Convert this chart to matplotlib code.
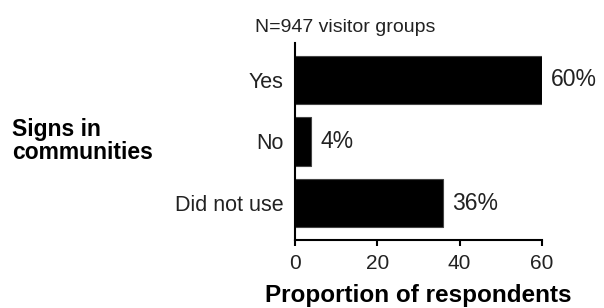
##Signs in communities bar chart
import matplotlib
matplotlib.use('Agg')
import matplotlib.pyplot as plt

plt.rcParams['font.family'] = ['Liberation Sans', 'DejaVu Sans']

#responses, top to bottom
categories = ['Yes', 'No', 'Did not use']
percents = [60, 4, 36]
xticks = [0, 20, 40, 60]

fig = plt.figure(figsize=(6.04, 3.08), dpi=100)
ax = fig.add_axes([0.4884, 0.2208, 0.4090, 0.6396])

ypos = list(range(len(categories)))[::-1]
bars = ax.barh(ypos, percents, height=0.78, color='black', edgecolor='#444444', linewidth=0.8)
ax.bar_label(bars, labels=[str(p) + '%' for p in percents], padding=6.5, fontsize=16.5, color='#222222')

ax.set_xlim(0, 60)
ax.set_ylim(-0.6, 2.6)
ax.set_yticks(ypos)
ax.set_yticklabels(categories, fontsize=15.5, color='#222222')
ax.tick_params(axis='y', length=0, pad=8)
ax.set_xticks(xticks)
ax.set_xticklabels([str(t) for t in xticks], fontsize=15, color='#222222')
ax.tick_params(axis='x', length=4, width=1.5, pad=6)

for s in ['top', 'right']:
    ax.spines[s].set_visible(False)
for s in ['left', 'bottom']:
    ax.spines[s].set_linewidth(1.5)

ax.set_xlabel('Proportion of respondents', fontsize=17.5, fontweight='bold', labelpad=8)
fig.text(12 / 604, 1 - 141 / 308, 'Signs in\ncommunities', fontsize=16.5, fontweight='bold',
         ha='left', va='center', linespacing=1.05)
fig.text(255 / 604, 1 - 32 / 308, 'N=947 visitor groups', fontsize=14, color='#222222',
         ha='left', va='baseline')

plt.savefig('out.png', dpi=100)
